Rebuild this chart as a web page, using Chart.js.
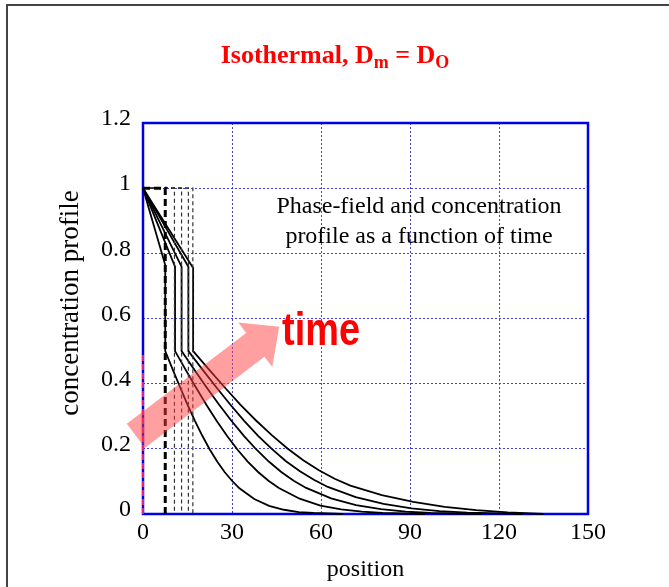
<!DOCTYPE html>
<html>
<head>
<meta charset="utf-8">
<script src="https://cdn.jsdelivr.net/npm/chart.js@4.4.0/dist/chart.umd.min.js"></script>
<style>
  html, body { margin: 0; padding: 0; background: #fff; }
  #wrap { position: relative; width: 669px; height: 587px; }
</style>
</head>
<body>
<div id="wrap"><canvas id="profil" width="669" height="587"></canvas></div>
<script>
const xTicks = [0, 30, 60, 90, 120, 150];
const yTicks = [0, 0.2, 0.4, 0.6, 0.8, 1, 1.2];
const yTickLabels = ['0', '0.2', '0.4', '0.6', '0.8', '1', '1.2'];

// concentration profiles, one per time step
const pos1 = [0, 7.5, 7.5, 10, 12.5, 15, 17.5, 20, 22.5, 25, 27.5, 30, 32.5, 37.5, 42.5, 47.5, 52.5, 57.5, 67.5];
const conc1 = [1, 0.764, 0.5, 0.444, 0.389, 0.336, 0.286, 0.240, 0.198, 0.161, 0.129, 0.102, 0.079, 0.046, 0.025, 0.013, 0.006, 0.003, 0];
const pos2 = [0, 10.8, 10.8, 14.3, 17.8, 21.3, 24.8, 28.3, 31.8, 35.3, 38.8, 42.3, 45.8, 52.8, 59.8, 66.8, 73.8, 80.8, 95];
const conc2 = [1, 0.759, 0.5, 0.444, 0.389, 0.336, 0.286, 0.240, 0.198, 0.161, 0.129, 0.102, 0.080, 0.047, 0.026, 0.014, 0.007, 0.003, 0];
const pos3 = [0, 13, 13, 17.2, 21.4, 25.6, 29.8, 34, 38.2, 42.4, 46.6, 50.8, 55, 63.4, 71.8, 80.2, 88.6, 97, 114];
const conc3 = [1, 0.759, 0.5, 0.444, 0.389, 0.336, 0.286, 0.240, 0.198, 0.161, 0.129, 0.102, 0.080, 0.048, 0.027, 0.015, 0.007, 0.003, 0];
const pos4 = [0, 15.3, 15.3, 20, 24.7, 29.4, 34.1, 38.8, 43.5, 48.2, 52.9, 57.6, 62.3, 71.7, 81.1, 90.5, 99.9, 109.3, 128];
const conc4 = [1, 0.759, 0.5, 0.444, 0.389, 0.336, 0.286, 0.240, 0.199, 0.162, 0.131, 0.105, 0.083, 0.052, 0.031, 0.017, 0.009, 0.004, 0];
const pos5 = [0, 16.9, 16.9, 22.2, 27.5, 32.8, 38.1, 43.4, 48.7, 54, 59.3, 64.6, 69.9, 80.5, 91.1, 101.7, 112.3, 122.9, 135];
const conc5 = [1, 0.755, 0.5, 0.444, 0.389, 0.336, 0.287, 0.242, 0.201, 0.165, 0.134, 0.108, 0.087, 0.058, 0.037, 0.022, 0.012, 0.005, 0];

// phase-field interface position at each time step (step 1 -> 0)
const interfacePos = [7.5, 10.6, 13.0, 15.3, 16.8];

// initial profile on the left wall
const initPos = [0, 0];
const initConc = [0, 0.49];

// "time" arrow, in data units
const arrowTail = [-2.4, 0.24];
const arrowTip = [45.9, 0.575];

const toPoints = (xs, ys) => xs.map((v, i) => ({ x: v, y: ys[i] }));

const curves = [[pos1, conc1], [pos2, conc2], [pos3, conc3], [pos4, conc4], [pos5, conc5]];

const datasets = [];
interfacePos.forEach((p, i) => {
  datasets.push({
    data: [{ x: 0, y: 1 }, { x: p, y: 1 }, { x: p, y: 0 }],
    borderColor: i === 0 ? '#000' : '#333',
    borderWidth: i === 0 ? 3 : 1.2,
    borderDash: i === 0 ? [7, 4] : [4, 3],
  });
});
curves.forEach(c => {
  datasets.push({ data: toPoints(c[0], c[1]), borderColor: '#000', borderWidth: 1.8 });
});
datasets.push({ data: toPoints(initPos, initConc), borderColor: '#e0207f', borderWidth: 2, borderDash: [6, 3] });

const serif = 'Liberation Serif, Times New Roman, serif';

const decor = {
  id: 'decor',
  beforeDraw(chart) {
    const ctx = chart.ctx;
    ctx.save();
    ctx.strokeStyle = '#444';
    ctx.lineWidth = 2;
    ctx.beginPath();
    ctx.moveTo(7, 587);
    ctx.lineTo(7, 5);
    ctx.lineTo(669, 5);
    ctx.stroke();
    ctx.restore();
  },
  beforeDatasetsDraw(chart) {
    const { ctx, chartArea: a } = chart;
    ctx.save();
    ctx.strokeStyle = '#0000e0';
    ctx.lineWidth = 2.5;
    ctx.strokeRect(a.left, a.top, a.right - a.left, a.bottom - a.top);
    ctx.restore();
  },
  afterDatasetsDraw(chart) {
    const { ctx, scales: { x, y } } = chart;
    ctx.save();

    // arrow
    const tx = x.getPixelForValue(arrowTail[0]), ty = y.getPixelForValue(arrowTail[1]);
    const hx = x.getPixelForValue(arrowTip[0]), hy = y.getPixelForValue(arrowTip[1]);
    const len = Math.hypot(hx - tx, hy - ty);
    const dx = (hx - tx) / len, dy = (hy - ty) / len;
    const nx = -dy, ny = dx;
    const headLen = 30, headHalf = 28, shaftHalf = 15;
    const bx = hx - dx * headLen, by = hy - dy * headLen;
    ctx.fillStyle = 'rgba(255,60,60,0.49)';
    ctx.beginPath();
    ctx.moveTo(tx + nx * shaftHalf, ty + ny * shaftHalf);
    ctx.lineTo(bx + nx * shaftHalf, by + ny * shaftHalf);
    ctx.lineTo(bx + nx * headHalf, by + ny * headHalf);
    ctx.lineTo(hx, hy);
    ctx.lineTo(bx - nx * headHalf, by - ny * headHalf);
    ctx.lineTo(bx - nx * shaftHalf, by - ny * shaftHalf);
    ctx.lineTo(tx - nx * shaftHalf, ty - ny * shaftHalf);
    ctx.closePath();
    ctx.fill();

    // "time"
    ctx.fillStyle = '#ff0000';
    ctx.font = 'bold 47px Liberation Sans, Arial, sans-serif';
    ctx.textBaseline = 'alphabetic';
    ctx.textAlign = 'left';
    const w = ctx.measureText('time').width;
    ctx.save();
    ctx.translate(282, 345);
    ctx.scale(78 / w, 1);
    ctx.fillText('time', 0, 0);
    ctx.restore();

    // annotation
    ctx.fillStyle = '#000';
    ctx.font = '24px ' + serif;
    ctx.textAlign = 'center';
    ctx.fillText('Phase-field and concentration', 419, 213);
    ctx.fillText('profile as a function of time', 419, 243);

    // axis titles
    ctx.fillText('position', 365.5, 576);
    ctx.save();
    ctx.font = '27px ' + serif;
    ctx.translate(78, 303);
    ctx.rotate(-Math.PI / 2);
    ctx.fillText('concentration profile', 0, 0);
    ctx.restore();

    // chart title with subscripts
    const parts = [
      { t: 'Isothermal, D', size: 26, dy: 0 },
      { t: 'm', size: 18, dy: 5 },
      { t: ' = D', size: 26, dy: 0 },
      { t: 'O', size: 18, dy: 5 },
    ];
    ctx.textAlign = 'left';
    ctx.fillStyle = '#ff0000';
    let total = 0;
    parts.forEach(p => { ctx.font = 'bold ' + p.size + 'px ' + serif; p.w = ctx.measureText(p.t).width; total += p.w; });
    let cx = 335 - total / 2;
    parts.forEach(p => {
      ctx.font = 'bold ' + p.size + 'px ' + serif;
      ctx.fillText(p.t, cx, 63 + p.dy);
      cx += p.w;
    });
    ctx.restore();
  }
};

new Chart(document.getElementById('profil'), {
  type: 'line',
  data: { datasets },
  plugins: [decor],
  options: {
    responsive: false,
    animation: false,
    devicePixelRatio: 1,
    layout: { padding: { left: 0, top: 123, right: 81, bottom: 0 } },
    datasets: { line: { pointRadius: 0, tension: 0, fill: false, clip: false } },
    plugins: { legend: { display: false }, tooltip: { enabled: false }, title: { display: false } },
    scales: {
      x: {
        type: 'linear', min: 0, max: 150,
        afterBuildTicks: s => { s.ticks = xTicks.map(v => ({ value: v })); },
        ticks: { font: { family: serif, size: 24 }, color: '#000', padding: 4, maxRotation: 0 },
        grid: { color: 'rgba(30,30,230,0.85)', lineWidth: 1, drawTicks: false },
        border: { display: false, dash: [2, 2] },
        afterFit: s => { s.height = 73; }
      },
      y: {
        type: 'linear', min: 0, max: 1.2,
        afterBuildTicks: s => { s.ticks = yTicks.map(v => ({ value: v })); },
        ticks: {
          font: { family: serif, size: 24 }, color: '#000', padding: 12, labelOffset: -4,
          callback: (v, i) => yTickLabels[i]
        },
        grid: { color: 'rgba(30,30,230,0.85)', lineWidth: 1, drawTicks: false },
        border: { display: false, dash: [2, 2] },
        afterFit: s => { s.width = 143; }
      }
    }
  }
});
</script>
</body>
</html>
